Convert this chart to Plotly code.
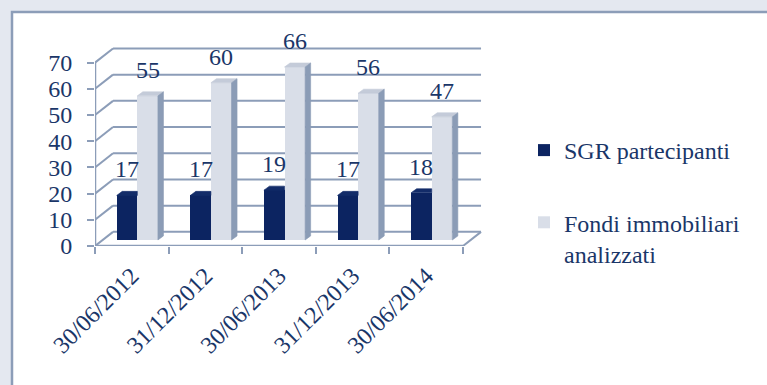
import plotly.graph_objects as go

# Survey dates and series values
dates = ["30/06/2012", "31/12/2012", "30/06/2013", "31/12/2013", "30/06/2014"]
sgr = [17, 17, 19, 17, 18]
fondi = [55, 60, 66, 56, 47]
y_ticks = [0, 10, 20, 30, 40, 50, 60, 70]

series_names = ["SGR partecipanti", "Fondi immobiliari<br>analizzati"]

# Colours
NAVY = "#0C2461"
NAVY_TOP = "#132C69"
LIGHT = "#D9DEE8"
LIGHT_TOP = "#C4CBD9"
LIGHT_SIDE = "#8B9CB6"
GRID = "#8C9DB8"
TEXT = "#1A3668"
FONT = "Liberation Serif"

# Pseudo-3D geometry in axis units
WALL_DX, WALL_DY = 0.245, 5.4      # depth of the whole box (back wall offset)
FRONT_DX, FRONT_DY = 0.105, 2.3    # where the bars' front faces sit in depth
BAR_DX, BAR_DY = 0.075, 1.55       # depth of each bar
BAR_W = 0.28
OFF_DARK, OFF_LIGHT = -0.17, 0.11  # bar centres relative to category centre

# Plot-area layout (pixels)
ML, MR, MT, MB = 95, 277, 40, 139
W, H = 767 - ML - MR, 385 - MT - MB
X_RANGE = [-0.5, W / 73.6 - 0.5]
Y_RANGE = [0, H / 2.62]

def px_to_paper(px, py):
    return (px - ML) / W, (385 - MB - py) / H

fig = go.Figure()
cats = list(range(len(dates)))

# Front faces of the bars
for vals, off, col, name in [(sgr, OFF_DARK, NAVY, series_names[0]),
                             (fondi, OFF_LIGHT, LIGHT, series_names[1])]:
    fig.add_trace(go.Bar(
        x=[i + FRONT_DX + off for i in cats], y=vals, base=FRONT_DY,
        width=BAR_W, marker=dict(color=col, line=dict(width=0)),
        name=name, legendgroup=name, hoverinfo="skip"))

def poly(xs, ys, color):
    fig.add_trace(go.Scatter(
        x=xs + [xs[0]], y=ys + [ys[0]], mode="lines", fill="toself",
        fillcolor=color, line=dict(color=color, width=0.6),
        showlegend=False, hoverinfo="skip"))

for i in cats:
    # dark bar: visible part of the top face (the light bar hides the rest)
    x0 = i + FRONT_DX + OFF_DARK - BAR_W / 2
    x1 = x0 + BAR_W
    top = FRONT_DY + sgr[i]
    poly([x0, x0 + BAR_DX, x1, x1], [top, top + BAR_DY, top + BAR_DY, top], NAVY_TOP)

    # light bar: top and side faces
    x0 = i + FRONT_DX + OFF_LIGHT - BAR_W / 2
    x1 = x0 + BAR_W
    top = FRONT_DY + fondi[i]
    poly([x0, x1, x1 + BAR_DX, x0 + BAR_DX], [top, top, top + BAR_DY, top + BAR_DY], LIGHT_TOP)
    poly([x1, x1, x1 + BAR_DX, x1 + BAR_DX],
         [FRONT_DY, top, top + BAR_DY, FRONT_DY + BAR_DY], LIGHT_SIDE)

# Value labels above each bar
annotations = []
for vals, off in [(sgr, OFF_DARK), (fondi, OFF_LIGHT)]:
    for i, v in zip(cats, vals):
        annotations.append(dict(
            x=i + FRONT_DX + off, y=FRONT_DY + v + BAR_DY, xref="x", yref="y",
            text=str(v), showarrow=False, yanchor="bottom", yshift=7,
            font=dict(family=FONT, size=24, color=TEXT)))

shapes = []
# White chart panel with its border
px0, py1 = px_to_paper(12, 12)
px1, py0 = px_to_paper(790, 410)
shapes.append(dict(type="rect", xref="paper", yref="paper", x0=px0, x1=px1,
                   y0=py0, y1=py1, fillcolor="white",
                   line=dict(color=GRID, width=2.5), layer="below"))

x_left, x_right = -0.5, len(dates) - 0.5
line_style = dict(color=GRID, width=2)
for v in y_ticks:
    # back-wall gridline and the diagonal on the side wall
    shapes.append(dict(type="line", xref="x", yref="y", layer="below",
                       x0=x_left + WALL_DX, x1=x_right + WALL_DX,
                       y0=v + WALL_DY, y1=v + WALL_DY, line=line_style))
    shapes.append(dict(type="line", xref="x", yref="y", layer="below",
                       x0=x_left, x1=x_left + WALL_DX, y0=v, y1=v + WALL_DY,
                       line=line_style))
# floor right edge
shapes.append(dict(type="line", xref="x", yref="y", layer="below",
                   x0=x_right, x1=x_right + WALL_DX, y0=0, y1=WALL_DY, line=line_style))
# front axes
shapes.append(dict(type="line", xref="x", yref="y", x0=x_left, x1=x_right, y0=0, y1=0,
                   line=dict(color=GRID, width=2.5)))
shapes.append(dict(type="line", xref="x", yref="y", x0=x_left, x1=x_left, y0=0,
                   y1=y_ticks[-1], line=dict(color=GRID, width=2.5)))

lx, ly = px_to_paper(524, 128)

fig.update_layout(
    width=767, height=385,
    font=dict(family=FONT, size=24, color=TEXT),
    margin=dict(l=ML, r=MR, t=MT, b=MB),
    paper_bgcolor="#E4E8F0", plot_bgcolor="rgba(0,0,0,0)",
    barmode="overlay", bargap=0,
    shapes=shapes, annotations=annotations,
    showlegend=True,
    legend=dict(x=lx, y=ly, xanchor="left", yanchor="top",
                traceorder="grouped", tracegroupgap=38, valign="top",
                font=dict(family=FONT, size=24, color=TEXT),
                bgcolor="rgba(0,0,0,0)"),
    xaxis=dict(range=X_RANGE, tickmode="array", tickvals=cats, ticktext=dates,
               tickangle=-45, ticks="", showgrid=False, zeroline=False,
               showline=False, fixedrange=True, ticklabelstandoff=10,
               tickfont=dict(family=FONT, size=24, color=TEXT),
               minor=dict(tickmode="array",
                          tickvals=[c - 0.5 for c in cats] + [x_right],
                          ticks="outside", ticklen=7, tickwidth=2,
                          tickcolor=GRID, showgrid=False)),
    yaxis=dict(range=Y_RANGE, tickmode="array", tickvals=y_ticks,
               ticks="outside", ticklen=7, tickwidth=2, tickcolor=GRID,
               showgrid=False, zeroline=False, showline=False, fixedrange=True,
               ticklabelstandoff=10,
               tickfont=dict(family=FONT, size=24, color=TEXT)),
)

fig.write_html("out.html")
